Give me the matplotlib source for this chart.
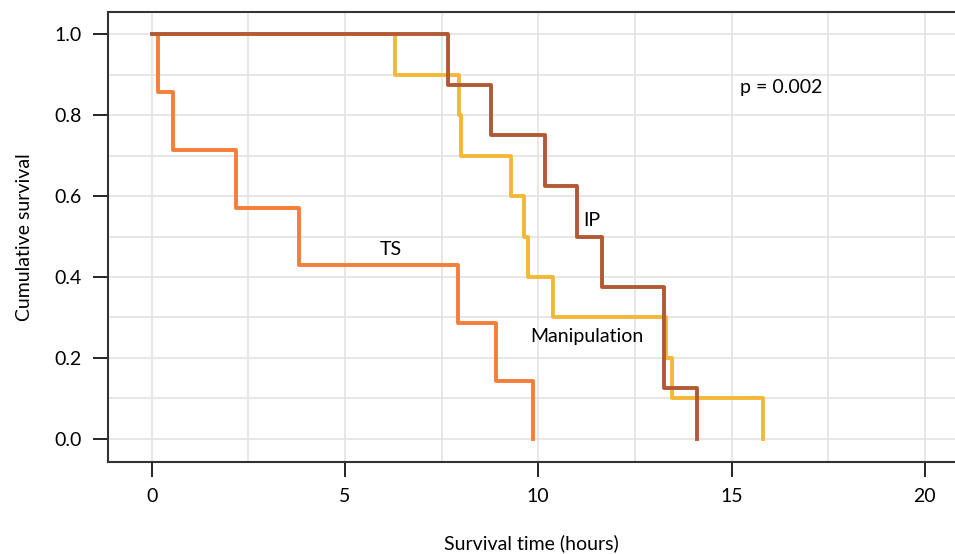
import matplotlib
matplotlib.use('Agg')
import matplotlib.pyplot as plt
from matplotlib.ticker import MultipleLocator

plt.rcParams['font.family'] = ['Lato', 'DejaVu Sans']

# Kaplan-Meier steps (time in hours, cumulative survival)
ts_time = [0, 0.17, 0.54, 2.18, 3.81, 7.92, 8.90, 9.87]
ts_surv = [1.0, 0.857, 0.714, 0.571, 0.429, 0.286, 0.143, 0.0]

man_time = [0, 6.29, 7.95, 8.00, 9.29, 9.62, 9.73, 10.37, 13.30, 13.45, 15.81]
man_surv = [1.0, 0.9, 0.8, 0.7, 0.6, 0.5, 0.4, 0.3, 0.2, 0.1, 0.0]

ip_time = [0, 7.67, 8.78, 10.18, 11.01, 11.66, 13.24, 14.10]
ip_surv = [1.0, 0.875, 0.75, 0.625, 0.5, 0.375, 0.125, 0.0]

fig = plt.figure(figsize=(9.55, 5.54), dpi=100)
ax = fig.add_axes([0.1131, 0.166, 0.8869, 0.812])

ax.step(ts_time, ts_surv, where='post', color='#F47E3A', lw=2.8, zorder=3)
ax.step(man_time, man_surv, where='post', color='#F4B838', lw=2.8, zorder=4)
ax.step(ip_time, ip_surv, where='post', color='#B15A35', lw=2.8, zorder=5)

fs = 14
ax.text(6.19, 0.467, 'TS', ha='center', va='center', fontsize=fs)
ax.text(11.26, 0.254, 'Manipulation', ha='center', va='center', fontsize=fs)
ax.text(11.38, 0.54, 'IP', ha='center', va='center', fontsize=fs)
ax.text(16.28, 0.869, 'p = 0.002', ha='center', va='center', fontsize=fs)

ax.set_xlim(-1.13, 20.78)
ax.set_ylim(-0.057, 1.054)
ax.xaxis.set_major_locator(MultipleLocator(5))
ax.xaxis.set_minor_locator(MultipleLocator(2.5))
ax.yaxis.set_major_locator(MultipleLocator(0.2))
ax.yaxis.set_minor_locator(MultipleLocator(0.1))
ax.set_yticklabels([f'{v:.1f}' for v in ax.get_yticks()])
ax.grid(which='both', color='#e3e3e3', lw=1.2, zorder=0)
ax.set_axisbelow(True)

ax.tick_params(which='major', length=11, width=1.2, pad=8, labelsize=fs)
ax.tick_params(which='minor', length=0)
for s in ax.spines.values():
    s.set_color('#333333')
    s.set_linewidth(1.5)
ax.spines['right'].set_visible(False)

ax.set_xlabel('Survival time (hours)', fontsize=fs, labelpad=21)
ax.set_ylabel('Cumulative survival', fontsize=fs, labelpad=15)

fig.savefig('out.png', dpi=100)
